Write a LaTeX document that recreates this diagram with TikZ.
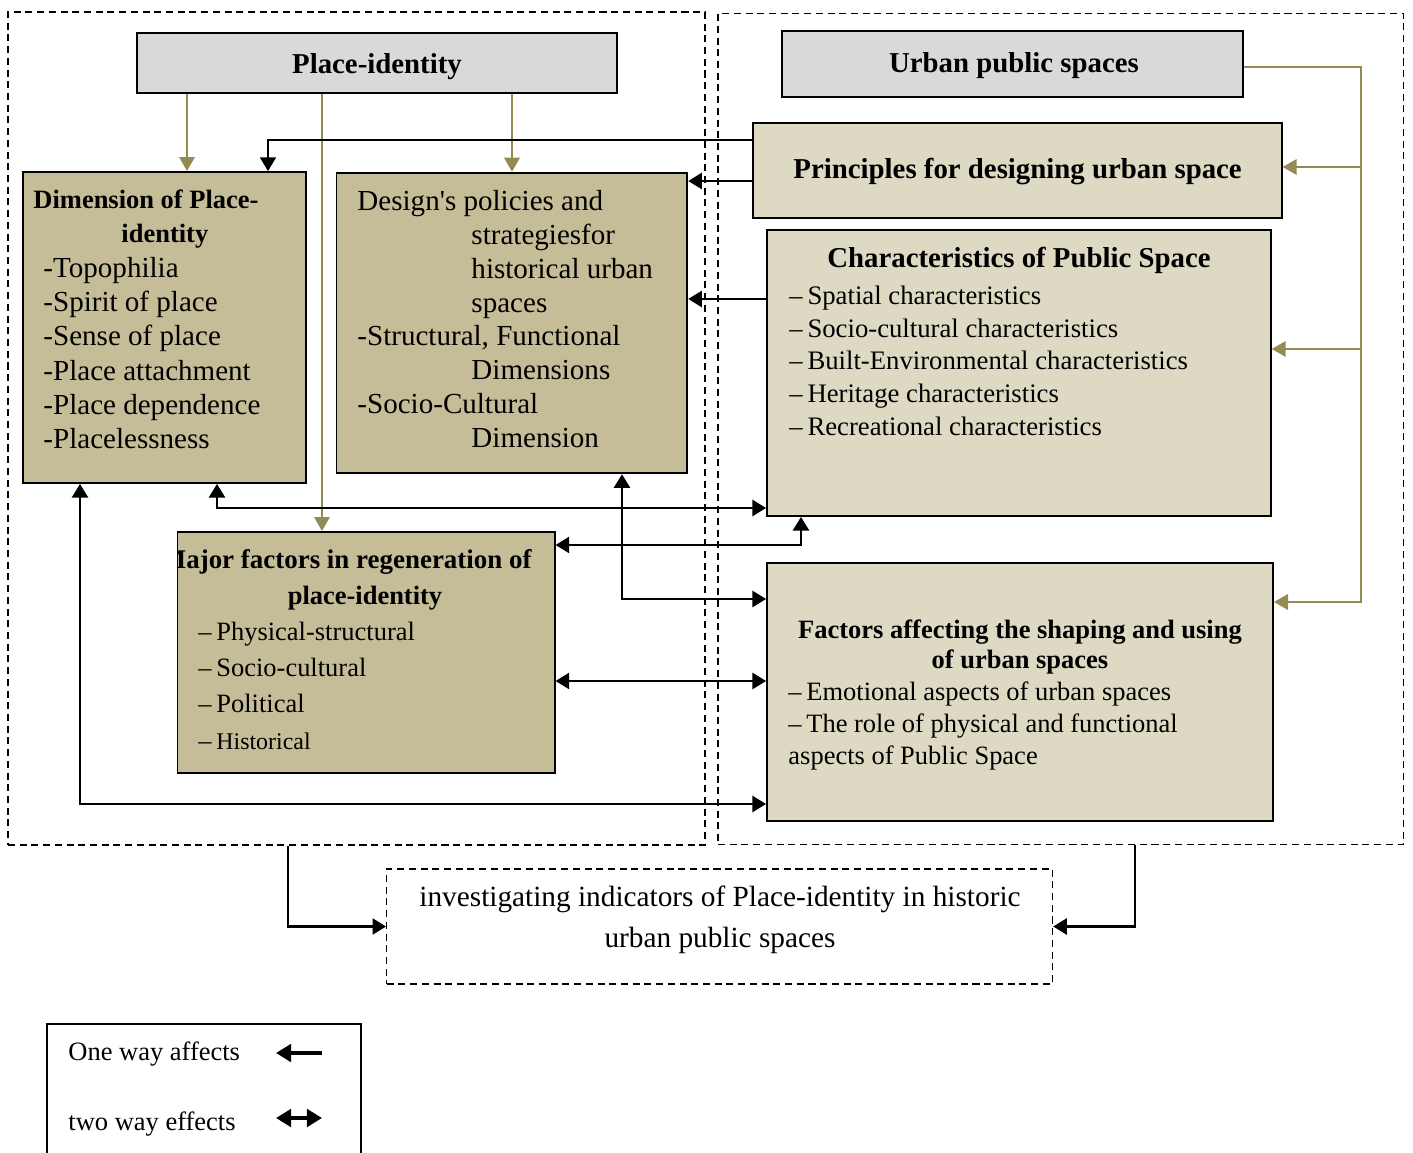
\documentclass[tikz,border=0pt]{standalone}
\usepackage{fontspec}
\setmainfont{Liberation Serif}
\usetikzlibrary{arrows.meta,fit}

\definecolor{boxgray}{HTML}{D9D9D9}
\definecolor{khaki}{HTML}{C4BD97}
\definecolor{paleKhaki}{HTML}{DDD9C3}
\definecolor{linkolive}{HTML}{948A54}

\tikzset{
  framebox/.style={draw, dash pattern=on 3pt off 2pt, line width=0.6pt, inner sep=0pt},
  headbox/.style={draw, fill=boxgray, line width=0.8pt, inner sep=0pt},
  darkbox/.style={draw, fill=khaki, line width=0.8pt, inner sep=0pt},
  lightbox/.style={draw, fill=paleKhaki, line width=0.8pt, inner sep=0pt},
  txt/.style={inner sep=0pt, anchor=north west, align=left},
  title/.style={inner sep=0pt, anchor=base, font=\fontsize{12.3}{14}\selectfont\bfseries},
  oliveline/.style={draw=linkolive, line width=1.1pt},
  olivearr/.style={oliveline, -{Triangle[length=6pt,width=6.5pt]}},
  onearr/.style={line width=1.05pt, -{Triangle[length=5.8pt,width=6.8pt]}},
  twoarr/.style={line width=1.05pt, {Triangle[length=5.8pt,width=6.8pt]}-{Triangle[length=5.8pt,width=6.8pt]}},
}

\begin{document}
\begin{tikzpicture}[x=0.015cm, y=-0.015cm]
  \useasboundingbox (0,0) rectangle (1413,1153);

  % Dashed frames
  \node[framebox, fit={(8,12) (705,845)}] (leftframe) {};%
  \node[framebox, fit={(718,13.5) (1403.5,844.5)}] (rightframe) {};%

  % Head boxes
  \node[headbox, fit={(137,33) (617,93)}] (pid) {};%
  \node[title] (pidtitle) at (377,74) {Place-identity};%
  \node[headbox, fit={(782,31.4) (1243,97.4)}] (ups) {};%
  \node[title] (upstitle) at (1014,72.7) {Urban public spaces};%

  % Dimension of place-identity
  \node[darkbox, fit={(23,172) (306,483)}] (dim) {};%
  \node[txt, font=\fontsize{12.4}{14.64}\selectfont] (dimtxt) at (33,184)
    {\strut{\fontsize{11.3}{14.64}\selectfont\bfseries Dimension of Place-}\\
     \hspace*{1.32cm}{\fontsize{11.3}{14.64}\selectfont\bfseries identity}\\
     \hspace*{0.15cm}-Topophilia\\
     \hspace*{0.15cm}-Spirit of place\\
     \hspace*{0.15cm}-Sense of place\\
     \hspace*{0.15cm}-Place attachment\\
     \hspace*{0.15cm}-Place dependence\\
     \hspace*{0.15cm}-Placelessness};%

  % Design's policies
  \node[darkbox, fit={(336.5,172.7) (687.3,473.3)}] (dps) {};%
  \node[txt, font=\fontsize{12.4}{14.45}\selectfont] (dpstxt) at (357,186.3)
    {\strut Design\textquotesingle s policies and\\
     \hspace*{1.71cm}strategiesfor\\
     \hspace*{1.71cm}historical urban\\
     \hspace*{1.71cm}spaces\\
     -Structural, Functional\\
     \hspace*{1.71cm}Dimensions\\
     -Socio-Cultural\\
     \hspace*{1.71cm}Dimension};%

  % Principles
  \node[lightbox, fit={(753,123) (1281.6,218)}] (pfd) {};%
  \node[title] (pfdtitle) at (1017.6,179) {Principles for designing urban space};%

  % Characteristics of public space
  \node[lightbox, fit={(767,230) (1270.7,516)}] (chars) {};%
  \node[title] (charstitle) at (1019,268) {Characteristics of Public Space};%
  \node[txt, font=\fontsize{11.4}{13.97}\selectfont] (charstxt) at (789,281.1)
    {\strut --\hspace{2pt}Spatial characteristics\\
     --\hspace{2pt}Socio-cultural characteristics\\
     --\hspace{2pt}Built-Environmental characteristics\\
     --\hspace{2pt}Heritage characteristics\\
     --\hspace{2pt}Recreational characteristics};%

  % Major factors
  \node[darkbox, fit={(177.5,532) (554.6,773)}] (maj) {};%
  \begin{scope}
    \clip (177.5,532) rectangle (554.6,773);
    \node[inner sep=0pt, anchor=base east, font=\fontsize{11.5}{14}\selectfont\bfseries] (majtitle) at (532,568) {Major factors in regeneration of};%
  \end{scope}
  \node[inner sep=0pt, anchor=base, font=\fontsize{11.3}{14}\selectfont\bfseries] (majtitleb) at (365,604) {place-identity};%
  \node[txt, font=\fontsize{11.3}{15.45}\selectfont] (majtxt) at (198,614.7)
    {\strut --\hspace{2pt}Physical-structural\\
     --\hspace{2pt}Socio-cultural\\
     --\hspace{2pt}Political\\
     --\hspace{2pt}{\fontsize{10.2}{15.45}\selectfont Historical}};%

  % Factors affecting
  \node[lightbox, fit={(767,563) (1273,821)}] (fas) {};%
  \node[inner sep=0pt, anchor=north, align=center, font=\fontsize{11.3}{12.8}\selectfont\bfseries] (fastitle) at (1020,617)
    {\strut Factors affecting the shaping and using\\of urban spaces};%
  \node[txt, font=\fontsize{11.3}{13.66}\selectfont] (fastxt) at (788,677.6)
    {\strut --\hspace{2pt}Emotional aspects of urban spaces\\
     --\hspace{2pt}The role of physical and functional\\
     aspects of Public Space};%

  % Investigating box
  \node[framebox, line width=0.5pt, fit={(386.7,869) (1052.6,984)}] (invbox) {};%
  \node[inner sep=0pt, anchor=north, align=center, font=\fontsize{12.5}{17.5}\selectfont] (invtxt) at (720,877.3)
    {\strut investigating indicators of Place-identity in historic\\urban public spaces};%

  % Olive arrows from the head boxes
  \draw[olivearr] (pid.south -| 187,0) -- (dim.north -| 187,0);%
  \draw[olivearr] (pid.south -| 512,0) -- (dps.north -| 512,0);%
  \draw[olivearr] (pid.south -| 322,0) -- (maj.north -| 322,0);%
  \draw[olivearr] (ups.east |- 0,67) -| (1361,602) -- (fas.east |- 0,602);%
  \draw[olivearr] (1361,167) -- (pfd.east |- 0,167);%
  \draw[olivearr] (1361,349) -- (chars.east |- 0,349);%

  % One way affects
  \draw[onearr, line width=0.55pt] (pfd.west |- 0,140) -| (dim.north -| 268,0);%
  \draw[onearr] (pfd.west |- 0,181) -- (dps.east |- 0,181);%
  \draw[onearr] (chars.west |- 0,299) -- (dps.east |- 0,299);%
  \draw[onearr] (leftframe.south -| 288,0) |- (invbox.west);%
  \draw[onearr] (rightframe.south -| 1135,0) |- (invbox.east);%

  % Two way effects
  \draw[twoarr] (dim.south -| 217,0) |- (chars.west |- 0,508);%
  \draw[twoarr] (maj.east |- 0,545) -| (chars.south -| 801,0);%
  \draw[twoarr] (dps.south -| 622,0) |- (fas.west |- 0,599);%
  \draw[twoarr] (maj.east |- 0,681) -- (fas.west |- 0,681);%
  \draw[twoarr] (dim.south -| 80,0) |- (fas.west |- 0,804);%

  % Legend
  \draw[line width=1pt] (47,1153) -- (47,1024) -- (361,1024) -- (361,1153);%
  \node[inner sep=0pt, anchor=base west, font=\fontsize{11.3}{14}\selectfont] (oneway) at (68,1060) {One way affects};%
  \node[inner sep=0pt, anchor=base west, font=\fontsize{11.3}{14}\selectfont] (twoway) at (68,1130) {two way effects};%
  \coordinate (onewayA) at (322,1053);
  \coordinate (onewayB) at (276,1053);
  \coordinate (twowayA) at (276,1118);
  \coordinate (twowayB) at (322,1118);
  \draw[line width=1.6pt, -{Triangle[length=6.5pt,width=7.5pt]}] (onewayA) -- (onewayB);%
  \draw[line width=1.6pt, {Triangle[length=6.5pt,width=7.5pt]}-{Triangle[length=6.5pt,width=7.5pt]}] (twowayA) -- (twowayB);%
\end{tikzpicture}
\end{document}
